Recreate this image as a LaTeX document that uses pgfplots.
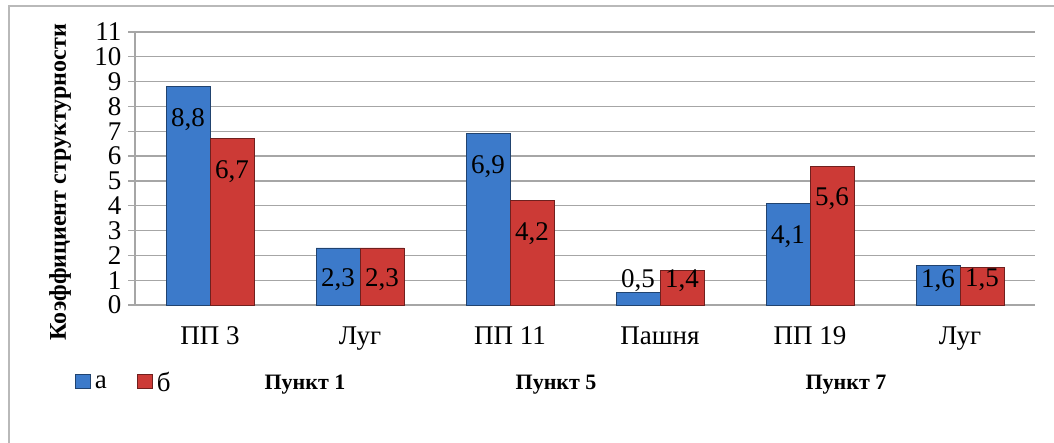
\documentclass[border=0pt]{standalone}
\usepackage{fontspec}
\setmainfont{Liberation Serif}
\usepackage{pgfplots}
\pgfplotsset{compat=1.18}
\usepackage{pgfplotstable}
\definecolor{bblue}{RGB}{60,122,202}
\definecolor{bred}{RGB}{204,58,54}
\definecolor{gridc}{RGB}{166,166,166}
\pgfplotstableread{
x a b ash bsh
0 8.8 6.7 -33 -33
1 2.3 2.3 -32 -32
2 6.9 4.2 -33 -33
3 0.5 1.4 12.4 -10
4 4.1 5.6 -33 -33
5 1.6 1.5 -15 -12.4
}\datatable
\newcommand{\tfont}{\fontsize{27bp}{30bp}\selectfont}
\begin{document}
\begin{tikzpicture}[x=1bp,y=1bp]
\useasboundingbox (0,0) rectangle (1054,443);
\draw[gray!55, line width=1.2bp] (9,-10) -- (9,437) -- (1070,437);
\begin{axis}[
  at={(135bp,138bp)}, anchor=south west,
  scale only axis, width=900bp, height=273bp,
  xmin=-0.5, xmax=5.5, ymin=0, ymax=11,
  ybar=0pt, bar width=44bp,
  axis x line*=bottom, axis y line*=left,
  axis line style={gridc, line width=1.3bp, -},
  ytick={0,1,...,11},
  ymajorgrids, grid style={gridc, line width=1.3bp},
  tick align=outside,
  major tick length=7bp,
  ytick style={gridc, line width=1.3bp},
  xtick={0,...,5},
  xticklabels={ПП 3, Луг, ПП 11, Пашня, ПП 19, Луг},
  major x tick style={draw=none},
  extra x ticks={-0.5,0.5,1.5,2.5,3.5,4.5,5.5},
  extra x tick labels={},
  extra x tick style={major tick length=7bp, tick style={draw=gridc, line width=1.3bp}},
  tick label style={font=\tfont},
  xticklabel style={yshift=-11bp},
  yticklabel style={xshift=-3bp},
  /pgf/number format/assume math mode=true,
  /pgf/number format/use comma,
  /pgf/number format/fixed,
  ylabel={\textbf{Коэффициент структурности}},
  every axis y label/.style={at={(axis description cs:-0.0833,0.45)}, rotate=90, anchor=center,
     font=\fontsize{24bp}{28bp}\selectfont},
  clip=false,
  nodes near coords,
  every node near coord/.append style={font=\tfont, anchor=center,
     /pgf/number format/fixed zerofill, /pgf/number format/precision=1},
  legend style={at={(axis description cs:-0.07,-0.286)}, anchor=west, draw=none, fill=none,
     font=\tfont, legend columns=2,
     nodes={inner xsep=4bp},
     /tikz/every even column/.append style={column sep=26bp}},
  legend image code/.code={\fill[#1] (0bp,-5bp) rectangle (15bp,9bp);},
]
\addplot[draw=bblue!55!black, line width=0.8bp, fill=bblue,
  visualization depends on={\thisrow{ash} \as \sh},
  every node near coord/.append style={yshift=\sh*1bp}]
  table[x=x, y=a] {\datatable};
\addplot[draw=bred!55!black, line width=0.8bp, fill=bred,
  visualization depends on={\thisrow{bsh} \as \sh},
  every node near coord/.append style={yshift=\sh*1bp}]
  table[x=x, y=b] {\datatable};
\legend{а, б}
\node[font=\fontsize{22bp}{26bp}\selectfont\bfseries] at (axis cs:0.633,-3.2) {Пункт 1};
\node[font=\fontsize{22bp}{26bp}\selectfont\bfseries] at (axis cs:2.307,-3.2) {Пункт 5};
\node[font=\fontsize{22bp}{26bp}\selectfont\bfseries] at (axis cs:4.24,-3.2) {Пункт 7};
\end{axis}
\end{tikzpicture}
\end{document}
